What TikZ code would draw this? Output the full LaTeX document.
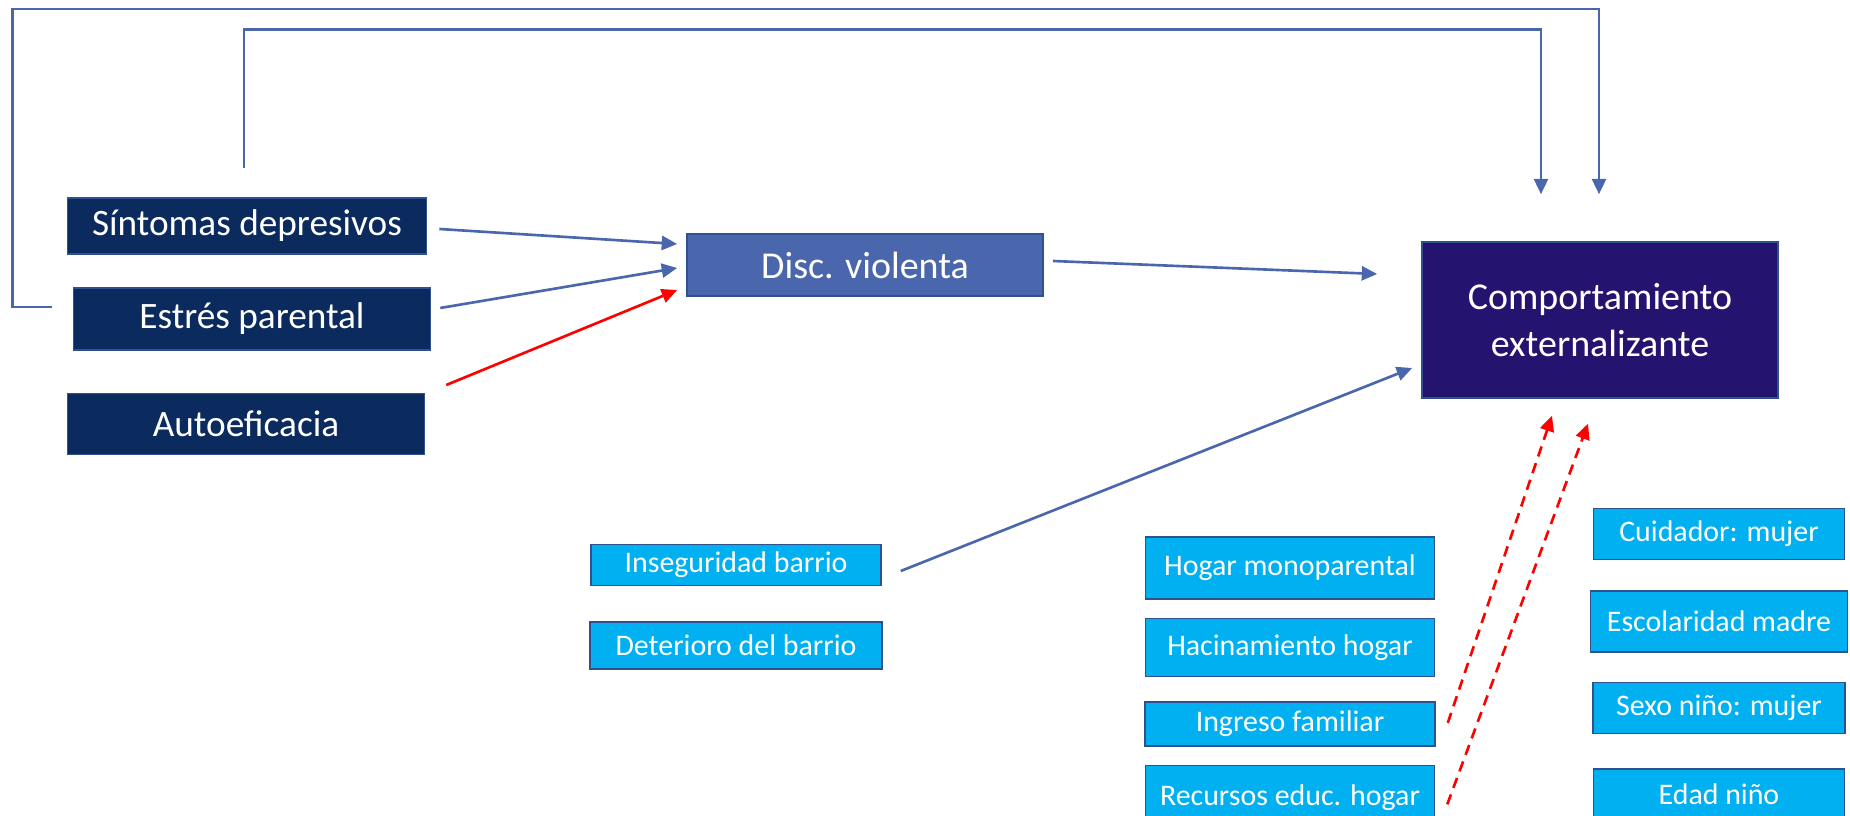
\documentclass[tikz,border=0pt]{standalone}
\usepackage{fontspec}
\setmainfont{Carlito}
\usepackage{xcolor}
\usetikzlibrary{arrows.meta, positioning, calc}

\definecolor{navybox}{HTML}{0B2B5E}
\definecolor{discbox}{HTML}{4A66AC}
\definecolor{outbox}{HTML}{24136F}
\definecolor{cyanbox}{HTML}{00B0F0}
\definecolor{edgeblue}{HTML}{2F528F}
\definecolor{linkblue}{HTML}{4A67AD}

\begin{document}
\begin{tikzpicture}[
    x=0.01cm, y=-0.01cm,
    >={Triangle[length=4.4pt,width=4pt]},
    factor/.style={rectangle, draw=edgeblue, line width=0.4pt, fill=navybox, text=white, inner sep=0pt, align=center, font=\fontsize{10.6}{13}\selectfont},
    mediator/.style={factor, fill=discbox, font=\fontsize{10.8}{13}\selectfont},
    outcome/.style={factor, fill=outbox, font=\fontsize{10.8}{13.2}\selectfont},
    covar/.style={factor, fill=cyanbox, font=\fontsize{8.5}{10}\selectfont},
    arrow/.style={line width=0.75pt, linkblue, ->},
    negarrow/.style={line width=0.75pt, red, ->},
    ctrlarrow/.style={line width=0.75pt, red, dash pattern=on 3pt off 2pt, ->},
]
\useasboundingbox (0,0) rectangle (1850,816);
\clip (0,0) rectangle (1850,816);

% Predictors
\node[factor, minimum width=3.59cm, minimum height=0.56cm] (sint) at (247,226) {Síntomas depresivos};
\node[factor, minimum width=3.57cm, minimum height=0.62cm] (estres) at (252,319) {Estrés parental};
\node[factor, minimum width=3.57cm, minimum height=0.61cm] (auto) at (246,424) {Autoeficacia};

% Mediator and outcome
\node[mediator, minimum width=3.56cm, minimum height=0.62cm] (disc) at (865,265) {Disc. violenta};
\node[outcome, minimum width=3.56cm, minimum height=1.56cm] (comp) at (1600,320) {Comportamiento\\externalizante};

% Neighbourhood
\node[covar, minimum width=2.90cm, minimum height=0.41cm] (inseg) at (736,565) {Inseguridad barrio};
\node[covar, minimum width=2.92cm, minimum height=0.47cm, below=0.35cm of inseg] (deter) {Deterioro del barrio};

% Household
\node[covar, minimum width=2.89cm, minimum height=0.62cm] (hogar) at (1290,568) {Hogar monoparental};
\node[covar, minimum width=2.89cm, minimum height=0.58cm, below=0.18cm of hogar] (hacin) {Hacinamiento hogar};
\node[covar, minimum width=2.90cm, minimum height=0.44cm, below=0.24cm of hacin] (ingreso) {Ingreso familiar};
\node[covar, minimum width=2.89cm, minimum height=0.64cm, below=0.18cm of ingreso] (recursos) {Recursos educ. hogar};

% Child and caregiver
\node[covar, minimum width=2.51cm, minimum height=0.51cm] (cuidador) at (1719,534) {Cuidador: mujer};
\node[covar, minimum width=2.57cm, minimum height=0.61cm, below=0.30cm of cuidador] (escol) {Escolaridad madre};
\node[covar, minimum width=2.52cm, minimum height=0.51cm, below=0.29cm of escol] (sexo) {Sexo niño: mujer};
\node[covar, minimum width=2.51cm, minimum height=0.50cm, below=0.34cm of sexo] (edad) {Edad niño};

% Arrows
\draw[arrow] ($(sint.east)+(12,3)$) -- ($(disc.west)+(-9,-21)$);
\draw[arrow] ($(estres.east)+(9,-11)$) -- ($(disc.west)+(-9,3)$);
\draw[negarrow] ($(auto.east)+(21,-39)$) -- ($(disc.west)+(-9,25)$);
\draw[arrow] ($(disc.east)+(9,-4)$) -- ($(comp.west)+(-44,-46)$);
\draw[arrow] ($(inseg.east)+(19,6)$) -- ($(comp.west)+(-9,48)$);
\draw[ctrlarrow] ($(ingreso.east)+(12,-1)$) -- ($(comp.south)+(-48,17)$);
\draw[ctrlarrow] ($(recursos.east)+(12,7)$) -- ($(comp.south)+(-12,25)$);

% Direct effects
\draw[arrow] ($(estres.west)+(-21,-12)$) -- ++(-39,0) -- ++(0,-298) -| ($(comp.north)+(-1,-47)$);
\draw[arrow] ($(sint.north)+(-3,-29)$) -- ++(0,-139) -| ($(comp.north)+(-59,-47)$);

\end{tikzpicture}
\end{document}
